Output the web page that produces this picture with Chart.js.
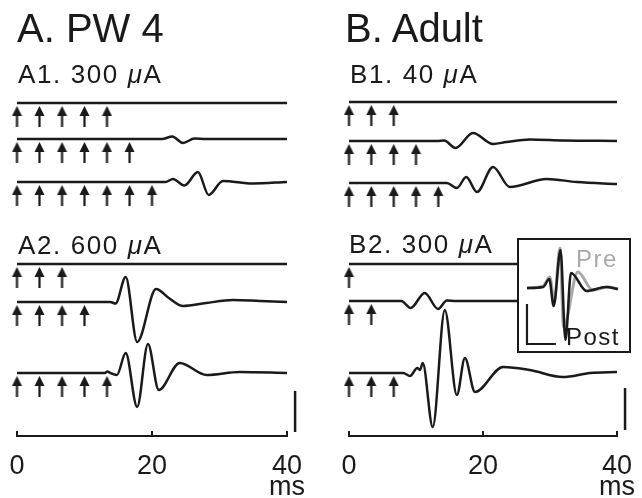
<!DOCTYPE html>
<html>
<head>
<meta charset="utf-8">
<script src="https://cdn.jsdelivr.net/npm/chart.js@4.4.1/dist/chart.umd.min.js"></script>
<style>
  body { margin: 0; background: #fff; }
  #wrap { position: relative; width: 642px; height: 498px; overflow: hidden; background: #fff;
          font-family: "Liberation Sans", Arial, sans-serif; color: #1a1a1a; }
  #wrap > canvas { position: absolute; top: 0; }
  .title { position: absolute; font-size: 40px; line-height: 40px; white-space: nowrap; }
  .sub { position: absolute; font-size: 26px; line-height: 26px; letter-spacing: 1.6px; white-space: nowrap; }
  #inset { position: absolute; left: 517px; top: 238px; width: 114px; height: 115px; box-sizing: border-box;
           border: 2px solid #1a1a1a; background: #fff; }
  #inset canvas { position: absolute; left: 0; top: 0; }
  .lab { position: absolute; font-size: 24px; line-height: 24px; letter-spacing: 1.5px; white-space: nowrap; }
</style>
</head>
<body>
<div id="wrap">
  <canvas id="chartA" width="321" height="498" style="left:0"></canvas>
  <canvas id="chartB" width="321" height="498" style="left:321px"></canvas>
  <div class="title" style="left:17px;top:8px">A. PW 4</div>
  <div class="title" style="left:345px;top:8px">B. Adult</div>
  <div class="sub" style="left:18px;top:61px">A1. 300 <i>μ</i>A</div>
  <div class="sub" style="left:18px;top:232px">A2. 600 <i>μ</i>A</div>
  <div class="sub" style="left:350px;top:61px">B1. 40 <i>μ</i>A</div>
  <div class="sub" style="left:349px;top:231px">B2. 300 <i>μ</i>A</div>
  <div id="inset">
    <canvas id="chartInset" width="110" height="111"></canvas>
    <div class="lab" style="left:57px;top:7px;color:#a8a8a8">Pre</div>
    <div class="lab" style="left:47px;top:85px;color:#1a1a1a">Post</div>
  </div>
</div>
<script>
// stimulus times (ms) and how many stimuli each trace got
const stimTimes = [0, 3.33, 6.67, 10, 13.33, 16.67, 20];
const stimCountA = [5, 6, 7, 3, 4, 5];
const stimCountB = [3, 4, 5, 1, 2, 3];

// traces: [ms, amplitude], amplitude relative to each trace's baseline
const traceA1a = [[0,0],[40,0]];
const traceA1b = [[0,0],[21.5,0],[23.0,2.5],[24.6,-4],[26.3,0.5],[28,0],[40,0]];
const traceA1c = [[0,0],[22,0],[23.1,3],[24.8,-3.5],[26.8,10],[28.4,-13],[30.5,1],[34.9,-1.5],[40,0]];
const traceA2a = [[0,0],[40,0]];
const traceA2b = [[0,0],[13.8,0],[14.6,-1.5],[16.1,25],[17.8,-40],[20.6,13],[22.5,4],[24.6,-4],[28,-1],[32,2],[36,1],[40,0]];
const traceA2c = [[0,0],[13.0,0],[13.4,1.5],[13.8,0],[14.8,-2],[16.1,20],[17.8,-34],[19.4,29],[21.0,-17],[24.1,10],[28.1,-2],[33,1],[40,0]];

const traceB1a = [[0,0],[40,0]];
const traceB1b = [[0,0],[13.2,0],[14.2,0.5],[15.9,-7],[18.5,8],[21.5,-3],[23.5,-1],[27,1.5],[32,0.5],[40,0]];
const traceB1c = [[0,0],[14.6,0],[16.1,-5],[17.5,6],[19.1,-9],[21.5,16],[24.0,-4],[29.5,4],[34,1],[40,-1]];
const traceB2a = [[0,0],[25.3,0]];
const traceB2b = [[0,0],[7.8,0],[9.2,-7],[11.3,8],[13.3,-8],[14.6,0.5],[16,0],[25.3,0]];
const traceB2c = [[0,0],[8.1,0],[9.1,-3],[10.2,5],[10.6,3],[11.0,10],[12.5,-54],[14.3,63],[16.1,-22],[17.3,15],[18.8,-19],[23,6],[27,3],[31.9,-4],[36,0],[40,1]];

// inset: pre / post averaged responses
const insetPre  = [[1.45,0],[4.4,2],[5.6,11],[6.4,-14],[7.45,40],[8.1,-39],[10.7,16],[13.4,-2],[16.2,1],[18,-1]];
const insetPost = [[1.45,0],[4.4,1],[5.5,9],[6.3,-18],[7.55,38],[8.45,-52],[9.45,15],[12.3,-3],[15.8,1],[18,-1]];

const xTickStep = 20;

// layout: vertical offsets of the stacked traces
const rowOffsetA = [333, 297, 254, 172, 134, 63];
const rowOffsetB = [334, 295, 253, 172, 135, 63];

const ink = '#1a1a1a';

function makeArrow() {
    const c = document.createElement('canvas');
    c.width = 11; c.height = 21;
    const g = c.getContext('2d');
    g.fillStyle = ink;
    g.beginPath(); g.moveTo(5.5,0); g.lineTo(10.5,10); g.lineTo(0.5,10); g.closePath(); g.fill();
    g.fillRect(4.4,9,2.2,12);
    return c;
}
const arrowImg = makeArrow();

const panelDecor = {
    id: 'panelDecor',
    afterDraw(chart, args, opts) {
        const ctx = chart.ctx, x = chart.scales.x, y = chart.scales.y;
        ctx.save();
        ctx.strokeStyle = ink;
        ctx.lineWidth = 2;
        x.ticks.forEach(function(t) {
            const px = x.getPixelForValue(t.value);
            ctx.beginPath(); ctx.moveTo(px, x.top); ctx.lineTo(px, x.top - 5); ctx.stroke();
        });
        // scale bar
        ctx.lineWidth = 2.5;
        const bx = x.getPixelForValue(opts.bar.t);
        ctx.beginPath();
        ctx.moveTo(bx, y.getPixelForValue(opts.bar.v0));
        ctx.lineTo(bx, y.getPixelForValue(opts.bar.v1));
        ctx.stroke();
        ctx.restore();
    }
};

const buildPanel = function(id, traces, counts, offsets, padL, padR, bar) {
    let datasets = [];
    for(let i=0;i<traces.length;i++) {
        datasets.push({
            data: traces[i].map(p => ({x: p[0], y: offsets[i] + p[1]})),
            borderColor: ink, borderWidth: 2.5, pointRadius: 0,
            cubicInterpolationMode: 'monotone', clip: false
        });
        datasets.push({
            data: stimTimes.slice(0, counts[i]).map(t => ({x: t, y: offsets[i] - 13.5})),
            showLine: false, pointStyle: arrowImg, pointRadius: 0.5, pointBorderWidth: 0, clip: false
        });
    }
    return new Chart(document.getElementById(id), {
        type: 'line',
        data: { datasets: datasets },
        plugins: [panelDecor],
        options: {
            responsive: false, animation: false,
            layout: { autoPadding: false, padding: { left: padL, right: padR, top: 0, bottom: 0 } },
            plugins: { legend: { display: false }, tooltip: { enabled: false }, panelDecor: { bar: bar } },
            scales: {
                x: {
                    type: 'linear', min: 0, max: 40,
                    // invisible tick marks only give the gap between axis line and labels
                    grid: { display: true, drawOnChartArea: false, drawTicks: true, tickLength: 20, color: 'rgba(0,0,0,0)' },
                    border: { display: true, color: ink, width: 2 },
                    afterFit: s => { s.height = 62; },
                    ticks: {
                        stepSize: xTickStep, padding: 0, color: ink, maxRotation: 0, autoSkip: false,
                        font: { family: 'Liberation Sans', size: 27, lineHeight: 0.78 },
                        callback: v => v === 40 ? ['40', 'ms'] : String(v)
                    }
                },
                y: { display: false, min: 0, max: 436 }
            }
        }
    });
};

buildPanel('chartA', [traceA1a, traceA1b, traceA1c, traceA2a, traceA2b, traceA2c],
           stimCountA, rowOffsetA, 17, 34, {t: 41.2, v0: 4, v1: 45});
buildPanel('chartB', [traceB1a, traceB1b, traceB1c, traceB2a, traceB2b, traceB2c],
           stimCountB, rowOffsetB, 28, 25, {t: 41.2, v0: 6, v1: 48});

// inset
const insetBar = {t0: 1.45, t1: 6.7, v0: -56, v1: -16};
new Chart(document.getElementById('chartInset'), {
    type: 'line',
    data: { datasets: [
        { data: insetPost.map(p => ({x: p[0], y: p[1]})), borderColor: ink, borderWidth: 2.5, pointRadius: 0, cubicInterpolationMode: 'monotone' },
        { data: insetPre.map(p => ({x: p[0], y: p[1]})), borderColor: '#a8a8a8', borderWidth: 3, pointRadius: 0, cubicInterpolationMode: 'monotone' }
    ]},
    plugins: [{
        id: 'insetBar',
        afterDraw(chart) {
            const ctx = chart.ctx, x = chart.scales.x, y = chart.scales.y;
            ctx.save();
            ctx.strokeStyle = ink; ctx.lineWidth = 2.2;
            ctx.beginPath();
            ctx.moveTo(x.getPixelForValue(insetBar.t0), y.getPixelForValue(insetBar.v1));
            ctx.lineTo(x.getPixelForValue(insetBar.t0), y.getPixelForValue(insetBar.v0));
            ctx.lineTo(x.getPixelForValue(insetBar.t1), y.getPixelForValue(insetBar.v0));
            ctx.stroke();
            ctx.restore();
        }
    }],
    options: {
        responsive: false, animation: false,
        layout: { autoPadding: false },
        plugins: { legend: { display: false }, tooltip: { enabled: false } },
        scales: {
            x: { type: 'linear', display: false, min: 0, max: 20 },
            y: { display: false, min: -63, max: 48 }
        }
    }
});
</script>
</body>
</html>
